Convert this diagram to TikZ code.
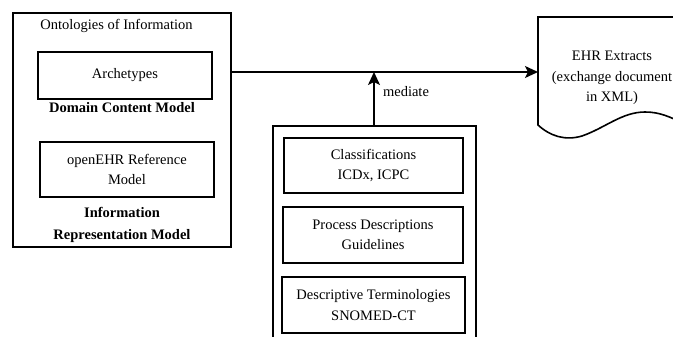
\documentclass[tikz,border=0pt]{standalone}
\usepackage{fontspec}
\setmainfont{Liberation Serif}
\usetikzlibrary{arrows.meta}
\begin{document}
\begin{tikzpicture}[x=1pt,y=-1pt,
  every node/.style={font=\fontsize{14.5}{20.5}\selectfont, inner sep=0pt, align=center},
  box/.style={draw, line width=1.6pt, rectangle},
  lbl/.style={},
  bold/.style={font=\fontsize{14.5}{22}\selectfont\bfseries},
  arr/.style={line width=1.6pt, -{Stealth[length=13pt,width=12pt,inset=3pt]}},
  ln/.style={line width=1.6pt}
]
\useasboundingbox (0,0) rectangle (673,337);
\clip (0,0) rectangle (673,337);
% left outer box
\node[box, minimum width=218pt, minimum height=234pt] (onto) at (122,130) {};
\node (ontot) at (116.5,26) {Ontologies of Information};
\node[box, minimum width=174pt, minimum height=47pt] (arch) at (125,75.5) {Archetypes};
\node[bold] (dcm) at (122,108) {Domain Content Model};
\node[box, minimum width=174pt, minimum height=55pt] (rm) at (127,169.5) {openEHR Reference\\Model};
\node[bold] (irm) at (122,225) {Information\\Representation Model};
% EHR document
\coordinate (docin) at (538,72);
\draw[ln] (690,17) -- (538,17) -- (538,125)
  .. controls (550,136) and (565,141) .. (582,136)
  .. controls (605,128) and (622,112) .. (645,112)
  .. controls (660,112) and (670,117) .. (685,124);
\node (ehr) at (612,78) {EHR Extracts\\(exchange document\\in XML)};
% main arrow
\coordinate (src) at (231,72);
\draw[arr] (src) -- (docin);
% bottom outer box (open bottom)
\coordinate (medsrc) at (374,126);
\coordinate (med) at (374,72);
\draw[ln] (273,345) -- (273,126) -- (476,126) -- (476,345);
\draw[arr] (medsrc) -- (med);
\node (medl) at (406,92) {mediate};
% inner boxes
\node[box, minimum width=179pt, minimum height=55pt] (cls) at (373.5,165.5) {Classifications\\ICDx, ICPC};
\node[box, minimum width=180pt, minimum height=56pt] (proc) at (373,235) {Process Descriptions\\Guidelines};
\node[box, minimum width=183pt, minimum height=56pt] (desc) at (373.5,305) {Descriptive Terminologies\\SNOMED-CT};
\end{tikzpicture}
\end{document}
